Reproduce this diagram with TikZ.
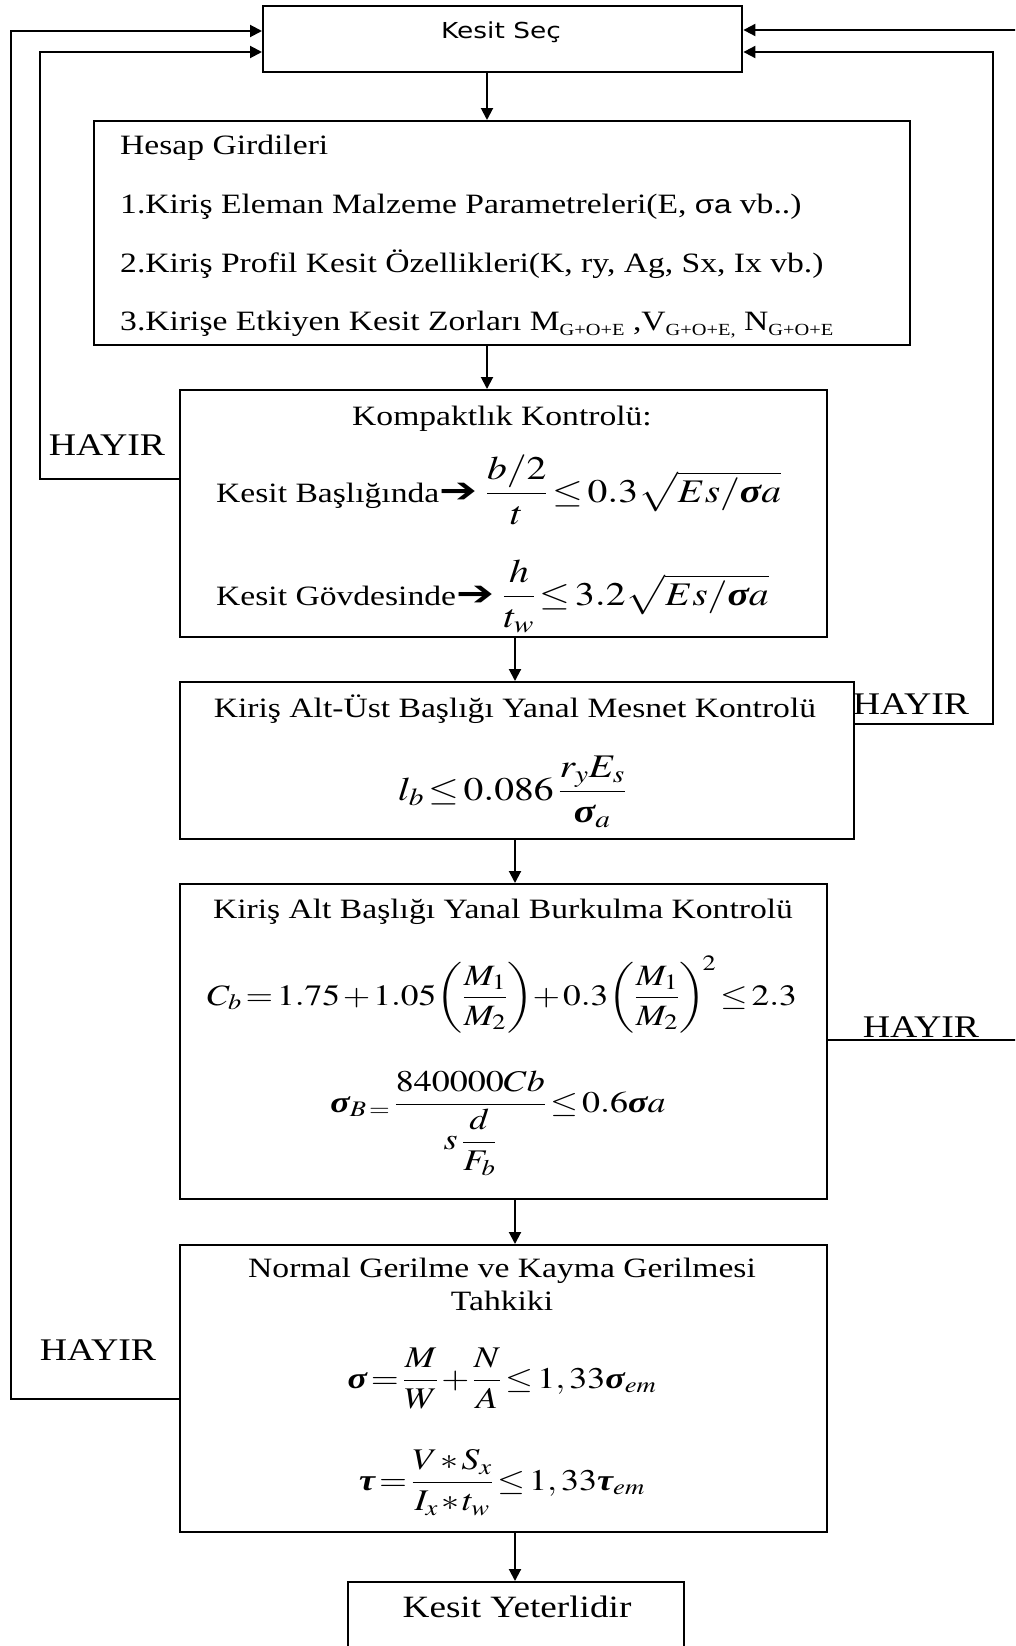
\documentclass[tikz,border=0pt]{standalone}
\usepackage{amsmath}
\usepackage{mathptmx}
\usepackage[no-math]{fontspec}
\setmainfont{Liberation Serif}
\newfontfamily\djv{DejaVu Sans}
\newfontfamily\lsans{Liberation Sans}
\usepackage{graphicx}
\usetikzlibrary{arrows.meta}
\newcommand{\sx}[1]{\scalebox{1.2}[1]{#1}}
\newcommand{\bsig}{\mbox{\bfseries\itshape σ}}
\newcommand{\btau}{\mbox{\bfseries\itshape τ}}
\newcommand{\fs}[1]{\fontsize{#1}{#1}\selectfont}
\newcommand{\tight}{\thickmuskip=2mu\medmuskip=1.5mu}
\newcommand{\sbs}[1]{\raisebox{-5pt}{\fs{17}#1}}
\newcommand{\harr}{\scalebox{1.35}[1.25]{\djv\fs{28}➔}}
\tikzset{
  box/.style={draw, line width=2.4pt, anchor=north west, inner sep=0pt},
  arr/.style={line width=2pt, -{Triangle[length=12pt,width=12pt]}},
  txt/.style={inner sep=0pt, font=\fs{28}},
}
\begin{document}
\begin{tikzpicture}[x=1pt,y=-1pt]
\useasboundingbox (0,0) rectangle (1015,1646);
\fill[white] (0,0) rectangle (1015,1646);
\clip (0,0) rectangle (1015,1646);
% boxes
\node[box, minimum width=479pt, minimum height=66pt] (kesit) at (262,5) {};
\node[box, minimum width=816pt, minimum height=224pt] (hesap) at (93,120) {};
\node[box, minimum width=647pt, minimum height=247pt] (komp) at (179,389) {};
\node[box, minimum width=674pt, minimum height=157pt] (mesnet) at (179,681) {};
\node[box, minimum width=647pt, minimum height=315pt] (burk) at (179,883) {};
\node[box, minimum width=647pt, minimum height=287pt] (normal) at (179,1244) {};
\node[box, minimum width=336pt, minimum height=100pt] (yeter) at (347,1581) {};
% main arrows
\coordinate (xa) at (487,0);
\coordinate (xb) at (515,0);
\draw[arr] (kesit.south -| xa) -- (hesap.north -| xa);
\draw[arr] (hesap.south -| xa) -- (komp.north -| xa);
\draw[arr] (komp.south -| xb) -- (mesnet.north -| xb);
\draw[arr] (mesnet.south -| xb) -- (burk.north -| xb);
\draw[arr] (burk.south -| xb) -- (normal.north -| xb);
\draw[arr] (normal.south -| xb) -- (yeter.north -| xb);
% loops
\coordinate (lo) at (11,1399); \coordinate (lot) at (11,31);
\draw[arr] (normal.west |- lo) -- (lo) -- (lot) -- (kesit.west |- lot);
\coordinate (li) at (40,479); \coordinate (lit) at (40,52);
\draw[arr] (komp.west |- li) -- (li) -- (lit) -- (kesit.west |- lit);
\coordinate (ri) at (993,724); \coordinate (rit) at (993,52);
\draw[arr] (mesnet.east |- ri) -- (ri) -- (rit) -- (kesit.east |- rit);
\coordinate (ro) at (1035,1040); \coordinate (rot) at (1035,30);
\draw[arr] (burk.east |- ro) -- (ro) -- (rot) -- (kesit.east |- rot);
% labels
\node[txt, anchor=base] (tks) at (501,39) {\sx{\djv\fs{22}Kesit Seç}};
\node[txt, anchor=base west] (h0) at (120,154) {\sx{Hesap Girdileri}};
\node[txt, anchor=base west] (h1) at (120,213) {\sx{1.Kiriş Eleman Malzeme Parametreleri(E, {\lsans\fs{26}σa} vb..)}};
\node[txt, anchor=base west] (h2) at (120,272) {\sx{2.Kiriş Profil Kesit Özellikleri(K, ry, Ag, Sx, Ix vb.)}};
\node[txt, anchor=base west] (h3) at (120,330) {\sx{3.Kirişe Etkiyen Kesit Zorları M\sbs{G+O+E} ,V\sbs{G+O+E,} N\sbs{G+O+E}}};
\node[txt, anchor=base] (kt) at (502,425) {\sx{Kompaktlık Kontrolü:}};
\node[txt, anchor=base west] (k1) at (216,502) {\sx{Kesit Başlığında\harr{} {\fs{33}$\tight\dfrac{b/2}{t}\le 0.3\sqrt{Es/\bsig a}$}}};
\node[txt, anchor=base west] (k2) at (216,605) {\sx{Kesit Gövdesinde\harr{} {\fs{33}$\tight\dfrac{h}{t_w}\le 3.2\sqrt{Es/\bsig a}$}}};
\node[txt, anchor=base] (mt) at (515,717) {\sx{Kiriş Alt-Üst Başlığı Yanal Mesnet Kontrolü}};
\node[txt, anchor=base] (mf) at (512,800) {\sx{\fs{33}$\tight l_b\le 0.086\,\dfrac{r_yE_s}{\bsig_a}$}};
\node[txt, anchor=base] (bt) at (503,918) {\sx{Kiriş Alt Başlığı Yanal Burkulma Kontrolü}};
\node[txt, anchor=base] (bf1) at (502,1005) {\sx{\fs{29.5}$\tight C_b=1.75+1.05\!\left(\dfrac{M_1}{M_2}\right)\!+0.3\!\left(\dfrac{M_1}{M_2}\right)^{\!2}\le 2.3$}};
\node[txt, anchor=base] (bf2) at (498,1112) {\sx{\fs{30}$\tight\bsig_{B\,=}\,\dfrac{840000Cb}{s\,\dfrac{d}{F_b}}\le 0.6\bsig a$}};
\node[txt, anchor=base] (nt1) at (502,1277) {\sx{Normal Gerilme ve Kayma Gerilmesi}};
\node[txt, anchor=base] (nt2) at (502,1310) {\sx{Tahkiki}};
\node[txt, anchor=base] (nf1) at (502,1388) {\sx{\fs{30}$\tight\bsig=\dfrac{M}{W}+\dfrac{N}{A}\le 1,33\bsig_{em}$}};
\node[txt, anchor=base] (nf2) at (502,1490) {\sx{\fs{30}$\tight\btau=\dfrac{V*S_x}{I_x*t_w}\le 1,33\btau_{em}$}};
\node[txt, anchor=base] (yt) at (517,1617) {\sx{\fs{31}Kesit Yeterlidir}};
% HAYIR labels
\node[txt, anchor=base] (hy1) at (107,455) {\sx{\fs{31.5}HAYIR}};
\node[txt, anchor=base] (hy2) at (911,714) {\sx{\fs{31.5}HAYIR}};
\node[txt, anchor=base] (hy3) at (921,1037) {\sx{\fs{31.5}HAYIR}};
\node[txt, anchor=base] (hy4) at (98,1360) {\sx{\fs{31.5}HAYIR}};
\end{tikzpicture}
\end{document}
